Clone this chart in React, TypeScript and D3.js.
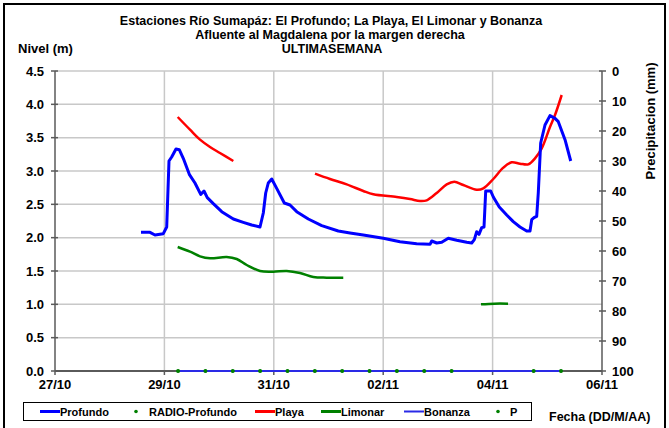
import React from "react";
import * as d3 from "d3";

// x values: days since 27/10 00:00
const tickLabels = ["27/10", "29/10", "31/10", "02/11", "04/11", "06/11"];
const tickDays = [0, 2, 4, 6, 8, 10];
const levelTicks = [0, 0.5, 1, 1.5, 2, 2.5, 3, 3.5, 4, 4.5];
const precipTicks = [0, 10, 20, 30, 40, 50, 60, 70, 80, 90, 100];

const profundo: [number, number][] = [
  [1.572, 2.08], [1.737, 2.08], [1.828, 2.04], [1.98, 2.06], [2.042, 2.16],
  [2.084, 3.15], [2.133, 3.21], [2.212, 3.33], [2.272, 3.32], [2.345, 3.19],
  [2.455, 2.95], [2.559, 2.82], [2.664, 2.65], [2.724, 2.7], [2.784, 2.6],
  [2.894, 2.51], [3.048, 2.39], [3.26, 2.28], [3.442, 2.23], [3.596, 2.19],
  [3.748, 2.16], [3.808, 2.37], [3.852, 2.67], [3.899, 2.82], [3.962, 2.88],
  [4.053, 2.74], [4.192, 2.52], [4.296, 2.49], [4.419, 2.39], [4.631, 2.28],
  [4.876, 2.18], [5.179, 2.1], [5.393, 2.07], [5.636, 2.04], [6.002, 1.99],
  [6.307, 1.94], [6.612, 1.91], [6.856, 1.9], [6.887, 1.95], [6.978, 1.92],
  [7.07, 1.93], [7.19, 1.99], [7.344, 1.96], [7.527, 1.93], [7.618, 1.92],
  [7.666, 1.97], [7.709, 2.09], [7.751, 2.05], [7.801, 2.15], [7.843, 2.16],
  [7.874, 2.7], [7.965, 2.7], [8.013, 2.61], [8.122, 2.46], [8.258, 2.34],
  [8.378, 2.24], [8.501, 2.16], [8.623, 2.1], [8.684, 2.1], [8.715, 2.27],
  [8.757, 2.3], [8.806, 2.32], [8.835, 2.67], [8.879, 3.42], [8.958, 3.69],
  [9.049, 3.83], [9.141, 3.79], [9.201, 3.74], [9.324, 3.47], [9.428, 3.15],
];

const playa1: [number, number][] = [
  [2.243, 3.81], [2.468, 3.62], [2.651, 3.47], [2.834, 3.36], [3.016, 3.27], [3.26, 3.15],
];
const playa2: [number, number][] = [
  [4.753, 2.96], [5.027, 2.88], [5.333, 2.8], [5.636, 2.7], [5.819, 2.65],
  [6.247, 2.61], [6.49, 2.58], [6.673, 2.55], [6.795, 2.56], [6.978, 2.67],
  [7.161, 2.8], [7.3, 2.84], [7.464, 2.79], [7.709, 2.72], [7.83, 2.74],
  [8.013, 2.88], [8.196, 3.05], [8.349, 3.13], [8.501, 3.11], [8.653, 3.1],
  [8.775, 3.19], [8.898, 3.34], [9.049, 3.66], [9.141, 3.84], [9.263, 4.14],
];

const limonar1: [number, number][] = [
  [2.243, 1.86], [2.468, 1.79], [2.651, 1.72], [2.834, 1.69], [3.139, 1.71],
  [3.322, 1.68], [3.505, 1.59], [3.748, 1.5], [3.991, 1.49], [4.236, 1.5],
  [4.479, 1.47], [4.722, 1.41], [4.967, 1.4], [5.27, 1.4],
];
const limonar2: [number, number][] = [[7.788, 1.0], [8.03, 1.01], [8.282, 1.01]];

const bonanza: [number, number][] = [[2.25, 0], [9.25, 0]];

const radioTimes = [2.25, 2.75, 3.25, 3.75, 4.25, 4.75, 5.25, 5.75, 6.25, 6.75, 7.25, 8.75, 9.25];
const radioProfundo: [number, number][] = radioTimes.map((t) => [t, 0]);
const pSeries: [number, number][] = radioTimes.map((t) => [t, 0]);

const W = 669;
const H = 428;
const L = 55, R = 602, T = 71, B = 371;

export default function App() {
  const x = d3.scaleLinear().domain([0, 10]).range([L, R]);
  const y = d3.scaleLinear().domain([0, 4.5]).range([B, T]);
  const yP = d3.scaleLinear().domain([0, 100]).range([T, B]);

  const smooth = d3.line<[number, number]>().x((d) => x(d[0])).y((d) => y(d[1])).curve(d3.curveCatmullRom.alpha(0.5));
  const jag = d3.line<[number, number]>().x((d) => x(d[0])).y((d) => y(d[1])).curve(d3.curveLinear);

  const font = "'Liberation Sans', Arial, sans-serif";
  const axisCol = "#5a5a5a";
  const gridCol = "#c8c8c8";

  const legendItems = [
    { label: "Profundo", kind: "line", color: "#0000ff", w: 3, lx: 40, tx: 60 },
    { label: "RADIO-Profundo", kind: "dot", color: "#008000", lx: 136, tx: 149 },
    { label: "Playa", kind: "line", color: "#ff0000", w: 3, lx: 255, tx: 275 },
    { label: "Limonar", kind: "line", color: "#008000", w: 3, lx: 321, tx: 341 },
    { label: "Bonanza", kind: "line", color: "#2a2ae6", w: 2, lx: 404, tx: 424 },
    { label: "P", kind: "dot", color: "#008000", lx: 498, tx: 510 },
  ];

  return (
    <svg width={W} height={H} style={{ position: "absolute", left: 0, top: 0, background: "#fff" }} fontFamily={font}>
      <rect x={0} y={0} width={W} height={H} fill="#fff" />
      <rect x={4} y={4} width={661} height={440} fill="none" stroke="#000" strokeWidth={2} />

      {/* Titles */}
      <g fontWeight="bold" fontSize={12.5} textAnchor="middle" fill="#000">
        <text x={331} y={25}>Estaciones Río Sumapáz: El Profundo; La Playa, El Limonar y Bonanza</text>
        <text x={330} y={39}>Afluente al Magdalena por la margen derecha</text>
        <text x={332} y={53}>ULTIMASEMANA</text>
      </g>
      <text x={18} y={53} fontWeight="bold" fontSize={13}>Nivel (m)</text>
      <text transform="translate(655,121) rotate(-90)" textAnchor="middle" fontWeight="bold" fontSize={13}>Precipitacion (mm)</text>

      {/* Grid */}
      {levelTicks.filter((v) => v > 0).map((v) => (
        <line key={"h" + v} x1={L} x2={R} y1={y(v)} y2={y(v)} stroke={gridCol} strokeWidth={1.5} />
      ))}
      {tickDays.filter((d) => d > 0 && d < 10).map((d) => (
        <line key={"v" + d} x1={x(d)} x2={x(d)} y1={T} y2={B} stroke={gridCol} strokeWidth={1.5} />
      ))}

      {/* Axes */}
      <line x1={L} x2={L} y1={T} y2={B} stroke={axisCol} strokeWidth={1.5} />
      <line x1={R} x2={R} y1={T} y2={B} stroke={axisCol} strokeWidth={1.5} />
      <line x1={L} x2={R} y1={B} y2={B} stroke={axisCol} strokeWidth={2} />
      {levelTicks.map((v) => (
        <g key={"lt" + v}>
          <line x1={L - 4} x2={L + 3} y1={y(v)} y2={y(v)} stroke={axisCol} strokeWidth={1.5} />
          <text x={L - 11} y={y(v) + 4.5} textAnchor="end" fontWeight="bold" fontSize={13}>{v.toFixed(1)}</text>
        </g>
      ))}
      {precipTicks.map((v) => (
        <g key={"rt" + v}>
          <line x1={R - 3} x2={R + 4} y1={yP(v)} y2={yP(v)} stroke={axisCol} strokeWidth={1.5} />
          <text x={R + 10} y={yP(v) + 4.5} textAnchor="start" fontWeight="bold" fontSize={13}>{v}</text>
        </g>
      ))}
      {tickDays.map((d, i) => (
        <g key={"xt" + d}>
          <line x1={x(d)} x2={x(d)} y1={B} y2={B + 4} stroke={axisCol} strokeWidth={1.5} />
          <text x={x(d)} y={389} textAnchor="middle" fontWeight="bold" fontSize={13}>{tickLabels[i]}</text>
        </g>
      ))}

      {/* Series */}
      <path d={jag(bonanza) || ""} fill="none" stroke="#2a2ae6" strokeWidth={2} />
      <path d={smooth(limonar1) || ""} fill="none" stroke="#008000" strokeWidth={2.5} />
      <path d={smooth(limonar2) || ""} fill="none" stroke="#008000" strokeWidth={2.5} />
      <path d={smooth(playa1) || ""} fill="none" stroke="#ff0000" strokeWidth={2.5} />
      <path d={smooth(playa2) || ""} fill="none" stroke="#ff0000" strokeWidth={2.5} />
      <path d={jag(profundo) || ""} fill="none" stroke="#0000ff" strokeWidth={3} strokeLinejoin="round" />
      {radioProfundo.map((d, i) => (
        <circle key={"r" + i} cx={x(d[0])} cy={y(d[1])} r={2} fill="#008000" />
      ))}
      {pSeries.map((d, i) => (
        <circle key={"p" + i} cx={x(d[0])} cy={y(d[1])} r={1.6} fill="#008000" />
      ))}

      {/* Legend */}
      <rect x={23.5} y={402.5} width={508} height={18} fill="#fff" stroke="#000" strokeWidth={1} />
      {legendItems.map((it) => (
        <g key={it.label}>
          {it.kind === "line" ? (
            <line x1={it.lx} x2={it.lx + 20} y1={411.5} y2={411.5} stroke={it.color} strokeWidth={it.w} />
          ) : (
            <circle cx={it.lx} cy={411.5} r={1.8} fill={it.color} />
          )}
          <text x={it.tx} y={415.5} fontWeight="bold" fontSize={11}>{it.label}</text>
        </g>
      ))}
      <text x={549} y={421} fontWeight="bold" fontSize={12.5}>Fecha (DD/M/AA)</text>
    </svg>
  );
}
